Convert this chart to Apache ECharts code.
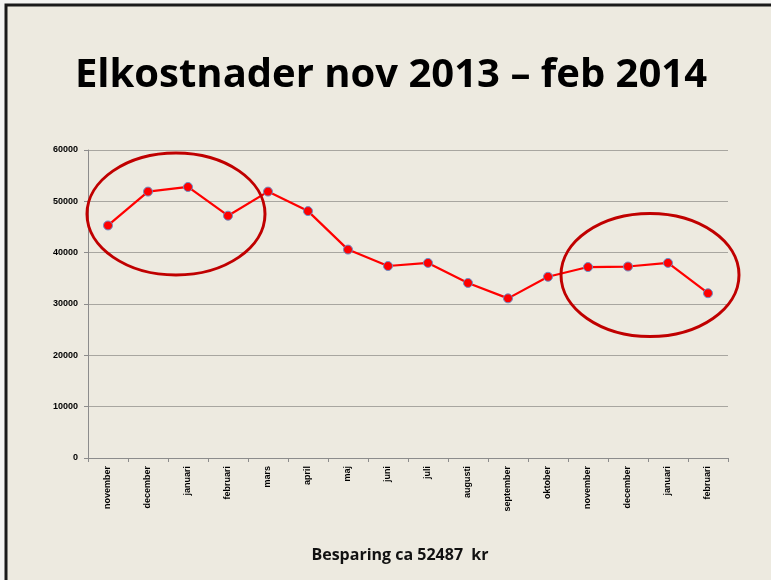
<!DOCTYPE html>
<html>
<head>
<meta charset="utf-8">
<script src="https://cdn.jsdelivr.net/npm/echarts@6/dist/echarts.min.js"></script>
<style>
  html, body { margin: 0; padding: 0; background: #f4f4f2; }
  #chart { width: 771px; height: 580px; }
</style>
</head>
<body>
<div id="chart"></div>
<script>
// månader nov 2013 - feb 2014
var months = [
    "november", "december", "januari", "februari", "mars", "april", "maj", "juni",
    "juli", "augusti", "september", "oktober", "november", "december", "januari", "februari",
];
// kostnad per månad (kr)
var costs = [
    45300, 51900, 52800, 47200, 51900, 48100, 40600, 37400,
    38000, 34100, 31100, 35300, 37200, 37300, 38000, 32100,
];
var yTicks = [0, 10000, 20000, 30000, 40000, 50000, 60000];

var title_text = "Elkostnader nov 2013 \u2013 feb 2014";
var footer_text = "Besparing ca 52487  kr";

var myChart = echarts.init(document.getElementById("chart"));
var option = {
    backgroundColor: "#f4f4f2",
    animation: false,
    grid: {
        left: 88,
        right: 43,
        top: 150,
        bottom: 122,
    },
    xAxis: {
        type: "category",
        data: months,
        boundaryGap: true,
        axisLine: {
            lineStyle: { color: "#8c8c8c", width: 1 },
        },
        axisTick: {
            show: true,
            length: 4,
            lineStyle: { color: "#8c8c8c" },
        },
        axisLabel: {
            rotate: 90,
            interval: 0,
            margin: 8,
            color: "#000",
            fontFamily: "Liberation Sans",
            fontWeight: "bold",
            fontSize: 9,
        },
    },
    yAxis: {
        type: "value",
        min: yTicks[0],
        max: yTicks[yTicks.length - 1],
        interval: 10000,
        axisLine: {
            show: true,
            lineStyle: { color: "#8c8c8c" },
        },
        axisTick: { show: true, length: 4, lineStyle: { color: "#8c8c8c" } },
        splitLine: {
            lineStyle: { color: "#a8a6a0", width: 1 },
        },
        axisLabel: {
            margin: 10,
            color: "#000",
            fontFamily: "Liberation Sans",
            fontWeight: "bold",
            fontSize: 9,
            formatter: function (v) {
                return String(v);
            },
        },
    },
    series: [
        {
            type: "line",
            data: costs,
            symbol: "circle",
            symbolSize: 9,
            lineStyle: { color: "#ff0000", width: 2.2 },
            itemStyle: {
                color: "#ff0000",
                borderColor: "#6a8fc8",
                borderWidth: 1,
            },
            z: 3,
        },
    ],
    graphic: [
        {
            type: "rect",
            shape: { x: 6, y: 5, width: 800, height: 600 },
            style: { fill: "#edeae0", stroke: "#1a1a1a", lineWidth: 3 },
            z: -10,
            silent: true,
        },
        {
            type: "text",
            x: 391,
            y: 56,
            style: {
                text: title_text,
                font: "bold 40px 'Open Sans'",
                fill: "#000",
                align: "center",
            },
        },
        {
            type: "text",
            x: 400,
            y: 547,
            style: {
                text: footer_text,
                font: "bold 16px 'Open Sans'",
                fill: "#111",
                align: "center",
            },
        },
        // markeringar
        {
            type: "ellipse",
            shape: { cx: 176, cy: 214, rx: 89, ry: 61 },
            style: { fill: "none", stroke: "#c00000", lineWidth: 3 },
            z: 10,
        },
        {
            type: "ellipse",
            shape: { cx: 650, cy: 275, rx: 89, ry: 61.5 },
            style: { fill: "none", stroke: "#c00000", lineWidth: 3 },
            z: 10,
        },
    ],
};
myChart.setOption(option);
</script>
</body>
</html>
